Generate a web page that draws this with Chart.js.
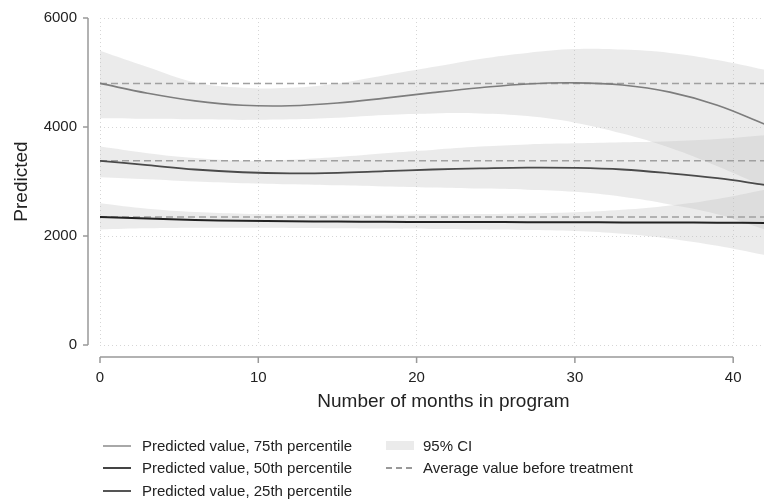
<!DOCTYPE html>
<html>
<head>
<meta charset="utf-8">
<script src="https://cdn.jsdelivr.net/npm/chart.js@4.4.0/dist/chart.umd.min.js"></script>
<style>
  html, body { margin: 0; padding: 0; background: #fff; overflow: hidden; width: 764px; height: 501px; }
  #wrap { position: relative; width: 764px; height: 501px; overflow: hidden; }
  canvas { position: absolute; left: 0; top: 0; }
  .legend { position: absolute; font-family: "Liberation Sans", Arial, sans-serif; font-size: 15px; color: #222; }
  .item { position: absolute; white-space: nowrap; height: 18px; line-height: 18px; }
  .item .key { position: absolute; left: 0; top: 8px; width: 28px; height: 2px; }
  .item span.txt { position: absolute; left: 39px; top: 0; }
</style>
</head>
<body>
<div id="wrap">
  <canvas id="chart" width="790" height="501"></canvas>
  <div class="legend">
    <div class="item" style="left:103px; top:437px;"><div class="key" style="background:#a8a8a8;"></div><span class="txt">Predicted value, 75th percentile</span></div>
    <div class="item" style="left:103px; top:459px;"><div class="key" style="background:#444;"></div><span class="txt">Predicted value, 50th percentile</span></div>
    <div class="item" style="left:103px; top:482px;"><div class="key" style="background:#555;"></div><span class="txt">Predicted value, 25th percentile</span></div>
    <div class="item" style="left:386px; top:437px;"><div class="key" style="top:4px; height:9px; background:#ebebeb;"></div><span class="txt" style="left:37px;">95% CI</span></div>
    <div class="item" style="left:386px; top:459px;"><div class="key" style="height:1.5px; background:repeating-linear-gradient(90deg, #999 0 6px, transparent 6px 10px);"></div><span class="txt" style="left:37px;">Average value before treatment</span></div>
  </div>
</div>
<script>
// months in program
const months = [0, 3, 6, 9, 12, 15, 18, 21, 24, 27, 30, 33, 36, 39, 42];

// predicted values per percentile
const pred75 = [4800, 4620, 4480, 4400, 4390, 4440, 4530, 4630, 4720, 4790, 4810, 4770, 4640, 4400, 4050];
const pred50 = [3380, 3300, 3220, 3170, 3150, 3160, 3190, 3220, 3240, 3255, 3250, 3220, 3150, 3060, 2940];
const pred25 = [2350, 2320, 2295, 2280, 2270, 2265, 2260, 2258, 2256, 2254, 2252, 2250, 2248, 2245, 2240];

// 95% CI bounds
const ci75Upper = [5400, 5100, 4820, 4720, 4720, 4800, 4950, 5100, 5250, 5360, 5430, 5420, 5360, 5230, 5050];
const ci75Lower = [4160, 4150, 4140, 4130, 4140, 4170, 4220, 4250, 4250, 4200, 4080, 3880, 3620, 3280, 2900];
const ci50Upper = [3640, 3520, 3430, 3380, 3400, 3450, 3520, 3580, 3640, 3680, 3700, 3720, 3740, 3780, 3850];
const ci50Lower = [3080, 3040, 3000, 2970, 2950, 2930, 2910, 2890, 2870, 2850, 2810, 2720, 2580, 2400, 2120];
const ci25Upper = [2600, 2500, 2440, 2410, 2400, 2395, 2395, 2400, 2405, 2415, 2435, 2480, 2560, 2680, 2850];
const ci25Lower = [2120, 2140, 2150, 2150, 2148, 2144, 2138, 2130, 2120, 2110, 2090, 2040, 1950, 1820, 1650];

// average value before treatment (75th, 50th, 25th)
const baseline = [4800, 3380, 2350];

const xTicks = [0, 10, 20, 30, 40];
const yTicks = [0, 2000, 4000, 6000];

const FONT = '"Liberation Sans", Arial, sans-serif';
const bandColor = 'rgba(190, 190, 190, 0.3)';

function pts(values) {
    return months.map((m, i) => ({ x: m, y: values[i] }));
}

function band(upper, lower) {
    return [
        { data: pts(upper), borderWidth: 0, pointRadius: 0, fill: '+1', backgroundColor: bandColor, tension: 0.4, order: 10 },
        { data: pts(lower), borderWidth: 0, pointRadius: 0, fill: false, tension: 0.4, order: 10 }
    ];
}

function curve(values, color, width) {
    return { data: pts(values), borderColor: color, borderWidth: width, pointRadius: 0, fill: false, tension: 0.4, order: 1 };
}

function dashed(value) {
    return {
        data: [{ x: months[0], y: value }, { x: months[months.length - 1], y: value }],
        borderColor: '#a0a0a0', borderWidth: 1.5, borderDash: [7, 4], pointRadius: 0, fill: false, order: 2
    };
}

// Stata-style axes, drawn a little away from the plot region
const offsetAxes = {
    id: 'offsetAxes',
    afterDraw(chart) {
        const { ctx, chartArea, scales } = chart;
        const xs = scales.x, ys = scales.y;
        ctx.save();
        ctx.strokeStyle = '#999';
        ctx.lineWidth = 1.5;
        const ax = chartArea.left - 12;
        ctx.beginPath();
        ctx.moveTo(ax, ys.getPixelForValue(yTicks[0]));
        ctx.lineTo(ax, ys.getPixelForValue(yTicks[yTicks.length - 1]));
        yTicks.forEach(v => {
            const p = ys.getPixelForValue(v);
            ctx.moveTo(ax, p);
            ctx.lineTo(ax - 5, p);
        });
        const ay = chartArea.bottom + 12;
        ctx.moveTo(xs.getPixelForValue(xTicks[0]), ay);
        ctx.lineTo(xs.getPixelForValue(xTicks[xTicks.length - 1]), ay);
        xTicks.forEach(v => {
            const p = xs.getPixelForValue(v);
            ctx.moveTo(p, ay);
            ctx.lineTo(p, ay + 6);
        });
        ctx.stroke();
        ctx.restore();
    }
};

const ctx = document.getElementById('chart').getContext('2d');

new Chart(ctx, {
    type: 'line',
    data: {
        datasets: [
            curve(pred75, '#7d7d7d', 1.6),
            curve(pred50, '#4a4a4a', 1.8),
            curve(pred25, '#222', 2),
            dashed(baseline[0]),
            dashed(baseline[1]),
            dashed(baseline[2]),
            ...band(ci75Upper, ci75Lower),
            ...band(ci50Upper, ci50Lower),
            ...band(ci25Upper, ci25Lower)
        ]
    },
    options: {
        responsive: false,
        animation: false,
        layout: { padding: { left: 0, right: 3, top: 18, bottom: 81 } },
        plugins: {
            legend: { display: false },
            tooltip: { enabled: false }
        },
        scales: {
            x: {
                type: 'linear',
                min: 0,
                max: 43.4,
                afterBuildTicks: scale => { scale.ticks = xTicks.map(v => ({ value: v })); },
                afterFit: scale => { scale.height = 75; scale.paddingLeft = 0; scale.paddingRight = 0; },
                grid: { color: '#d6d6d6', lineWidth: 1, drawTicks: false },
                border: { display: false, dash: [1, 3] },
                ticks: { color: '#222', font: { family: FONT, size: 15 }, padding: 24, maxRotation: 0 },
                title: {
                    display: true,
                    text: 'Number of months in program',
                    color: '#222',
                    font: { family: FONT, size: 19 },
                    padding: { top: 0, bottom: 7 }
                }
            },
            y: {
                min: 0,
                max: 6000,
                afterBuildTicks: scale => { scale.ticks = yTicks.map(v => ({ value: v })); },
                afterFit: scale => { scale.width = 100; scale.paddingTop = 0; scale.paddingBottom = 0; },
                grid: { color: '#d6d6d6', lineWidth: 1, drawTicks: false },
                border: { display: false, dash: [1, 3] },
                ticks: {
                    color: '#222',
                    font: { family: FONT, size: 15 },
                    padding: 23,
                    callback: value => String(value)
                },
                title: {
                    display: true,
                    text: 'Predicted',
                    color: '#222',
                    font: { family: FONT, size: 19 },
                    padding: { top: 10, bottom: 0 }
                }
            }
        }
    },
    plugins: [offsetAxes]
});
</script>
</body>
</html>
